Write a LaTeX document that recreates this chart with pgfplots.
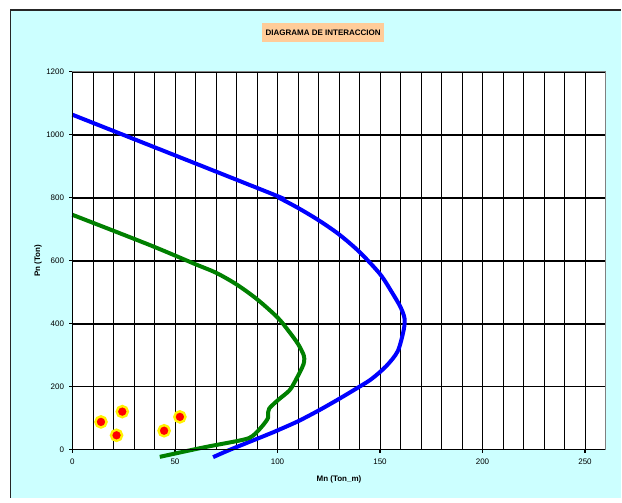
\documentclass[border=0pt]{standalone}
\usepackage{pgfplots}
\pgfplotsset{compat=1.18}
\usepackage{fontspec}
\setmainfont{Liberation Sans}
\definecolor{bgcyan}{RGB}{204,255,255}
\definecolor{titlepeach}{RGB}{255,204,153}
\definecolor{dgreen}{RGB}{0,128,0}
\begin{document}
\begin{tikzpicture}
% page and chart area
\path[fill=white] (0,0) rectangle (466.5pt,-377.25pt);
\path[fill=bgcyan] (7.75pt,-7.5pt) rectangle (466.5pt,-373.5pt);
\draw[black!85, line width=0.8pt] (7.75pt,-373.5pt) -- (7.75pt,-7.5pt) -- (466.5pt,-7.5pt);
\begin{axis}[
  at={(54.4pt,-337.5pt)}, anchor=south west,
  scale only axis, width=400.1pt, height=283.5pt,
  xmin=0, xmax=260, ymin=0, ymax=1200,
  clip=false,
  axis background/.style={fill=white},
  axis line style={draw=black!50, line width=0.8pt},
  xtick={0,50,...,250}, minor xtick={0,10,...,260},
  ytick={0,200,...,1200},
  tick pos=left, tick align=outside,
  major tick length=2.4pt, minor tick length=0pt,
  tick style={black, line width=0.8pt},
  grid=both,
  major x grid style={black, line width=0.5pt},
  minor x grid style={black, line width=0.5pt},
  major y grid style={black, line width=1.2pt},
  /pgf/number format/assume math mode=true,
  /pgf/number format/1000 sep={},
  ticklabel style={font=\fontsize{6}{7}\selectfont},
  xticklabel style={yshift=-1.2pt},
  yticklabel style={xshift=-0.4pt},
  xlabel={Mn (Ton\_m)}, ylabel={Pn (Ton)},
  every axis x label/.style={at={(rel axis cs:0.5,0)}, anchor=center, yshift=-22.5pt, font=\fontsize{6}{7}\selectfont\bfseries},
  every axis y label/.style={at={(rel axis cs:0,0.5)}, anchor=center, xshift=-25.9pt, rotate=90, font=\fontsize{6}{7}\selectfont\bfseries},
  after end axis/.code={\draw[black, line width=1.3pt] (rel axis cs:0,1) -- (rel axis cs:0,0) -- (rel axis cs:1,0);},
]
\addplot[blue, line width=3pt, smooth, tension=0.5, line join=round] coordinates {
(0,1064) (96,816) (100.8,800) (110,768) (120,729) (130,684) (140,628) (150,558) (155.8,500) (160,453) (162,416) (161.5,378) (158.6,312) (153,265) (146,225) (140,200) (130,161) (120,124) (110,90) (100,61) (96,50) (77,0) (68.6,-24)
};
\addplot[dgreen, line width=3pt, smooth, tension=0.5, line join=round] coordinates {
(0,746) (37.7,650) (60,589) (70,562) (80,525) (90,478) (100,420) (105.3,378) (110,336) (112.8,300) (113,280) (112,260) (108,210) (105.7,187) (100,156) (96,131) (95.4,118) (95.4,101) (93,78) (88,44) (83,31) (64,7) (42.6,-23)
};
\addplot[only marks, mark=*, mark size=4.2pt, mark options={fill=red, draw=yellow, line width=1.8pt}] coordinates {
(13.9,88) (24.3,120.7) (21.5,45.5) (44.7,60) (52.4,104)
};
\end{axis}
\node[fill=titlepeach, minimum width=92pt, minimum height=15pt, inner sep=0pt, font=\fontsize{6}{7}\selectfont\bfseries] at (242.6pt,-24.4pt) {DIAGRAMA DE INTERACCION};
\end{tikzpicture}
\end{document}
